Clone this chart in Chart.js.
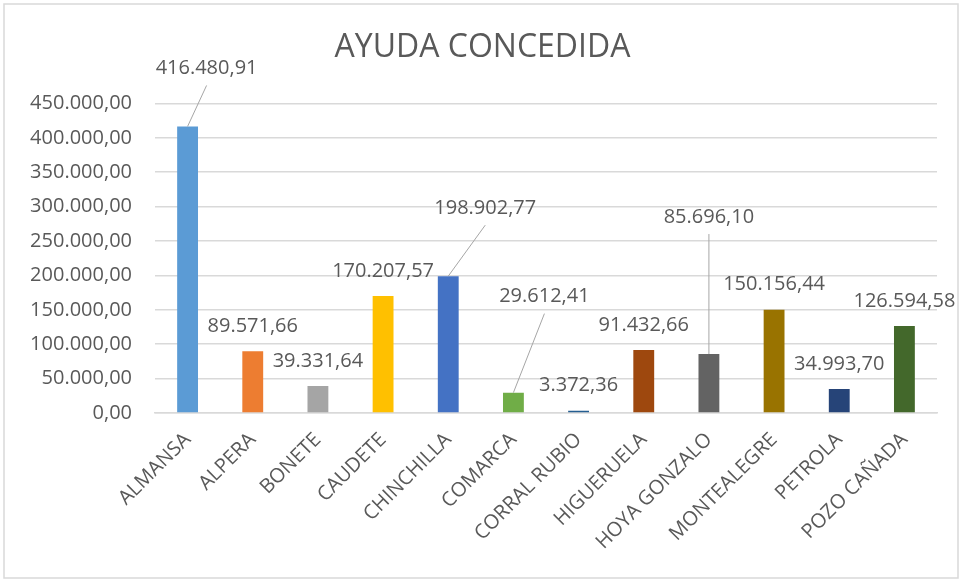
<!DOCTYPE html>
<html>
<head>
<meta charset="utf-8">
<script src="https://cdn.jsdelivr.net/npm/chart.js@4/dist/chart.umd.min.js"></script>
<style>
  html, body { margin: 0; padding: 0; background: #fff; }
  #wrap { width: 965px; height: 581px; }
</style>
</head>
<body>
<div id="wrap"><canvas id="chart" width="965" height="581"></canvas></div>
<script>
var categories = ['ALMANSA', 'ALPERA', 'BONETE', 'CAUDETE', 'CHINCHILLA', 'COMARCA',
  'CORRAL RUBIO', 'HIGUERUELA', 'HOYA GONZALO', 'MONTEALEGRE', 'PETROLA', 'POZO CAÑADA'];
var ayuda = [416480.91, 89571.66, 39331.64, 170207.57, 198902.77, 29612.41,
  3372.36, 91432.66, 85696.10, 150156.44, 34993.70, 126594.58];
var barColors = ['#5B9BD5', '#ED7D31', '#A5A5A5', '#FFC000', '#4472C4', '#70AD47',
  '#255E91', '#9E480E', '#636363', '#997300', '#264478', '#43682B'];
var yMin = 0, yMax = 450000, yStep = 50000;

// where each value label sits, relative to the top of its bar (px); lead = draw a leader line
var labelPlace = [
  { dx: 19, dy: -58, lead: true },
  { dx: 0, dy: -25 },
  { dx: 0, dy: -25 },
  { dx: 0, dy: -25 },
  { dx: 37, dy: -68, lead: true },
  { dx: 31, dy: -96, lead: true },
  { dx: 0, dy: -25 },
  { dx: 0, dy: -25 },
  { dx: 0, dy: -137, lead: true },
  { dx: 0, dy: -25 },
  { dx: 0, dy: -25 },
  { dx: 0, dy: -25 }
];

var textColor = '#595959';
var gridColor = '#D9D9D9';
var fontFamily = "'Open Sans', sans-serif";

function fmt(v) {
  var parts = v.toFixed(2).split('.');
  var ent = parts[0].replace(/\B(?=(\d{3})+(?!\d))/g, '.');
  return ent + ',' + parts[1];
}

var valueLabels = {
  id: 'valueLabels',
  afterDatasetsDraw: function (chart) {
    var ctx = chart.ctx;
    var meta = chart.getDatasetMeta(0);
    ctx.save();
    ctx.font = '20px ' + fontFamily;
    ctx.fillStyle = textColor;
    ctx.textAlign = 'center';
    ctx.textBaseline = 'middle';
    meta.data.forEach(function (bar, i) {
      var p = labelPlace[i];
      var lx = bar.x + p.dx, ly = bar.y + p.dy;
      if (p.lead) {
        ctx.strokeStyle = '#A6A6A6';
        ctx.lineWidth = 1;
        ctx.beginPath();
        ctx.moveTo(bar.x, bar.y);
        ctx.lineTo(lx, ly + 17);
        ctx.stroke();
      }
      ctx.fillText(fmt(ayuda[i]), lx, ly);
    });
    ctx.restore();
  }
};

var frame = {
  id: 'frame',
  beforeDraw: function (chart) {
    var ctx = chart.ctx;
    ctx.save();
    ctx.fillStyle = '#fff';
    ctx.fillRect(0, 0, chart.width, chart.height);
    ctx.strokeStyle = gridColor;
    ctx.lineWidth = 1.5;
    ctx.strokeRect(4, 4, 954, 574);
    ctx.restore();
  }
};

new Chart(document.getElementById('chart'), {
  type: 'bar',
  data: {
    labels: categories,
    datasets: [{
      data: ayuda,
      backgroundColor: barColors,
      categoryPercentage: 1,
      barPercentage: 0.32
    }]
  },
  options: {
    responsive: false,
    animation: false,
    layout: { padding: 0 },
    plugins: {
      legend: { display: false },
      tooltip: { enabled: false },
      title: {
        display: true,
        text: 'AYUDA CONCEDIDA',
        color: textColor,
        font: { family: fontFamily, size: 32, weight: 'normal' },
        padding: { top: 29, bottom: 36 }
      }
    },
    scales: {
      x: {
        grid: { display: false, drawTicks: false },
        border: { color: gridColor, width: 1.5 },
        ticks: {
          color: textColor,
          font: { family: fontFamily, size: 20 },
          minRotation: 45,
          maxRotation: 45,
          autoSkip: false,
          padding: 15
        },
        afterFit: function (s) { s.height = 168; }
      },
      y: {
        min: yMin,
        max: yMax,
        grid: { color: gridColor, lineWidth: 1.5, drawTicks: false },
        border: { display: false },
        ticks: {
          stepSize: yStep,
          color: textColor,
          font: { family: fontFamily, size: 20 },
          padding: 23,
          callback: function (v) { return fmt(v); }
        },
        afterFit: function (s) { s.width = 155; }
      },
      // empty right-hand margin so the plot ends where the original does
      gap: {
        position: 'right',
        grid: { display: false, drawTicks: false },
        border: { display: false },
        ticks: { display: false },
        afterFit: function (s) { s.width = 28; }
      }
    }
  },
  plugins: [frame, valueLabels]
});
</script>
</body>
</html>
